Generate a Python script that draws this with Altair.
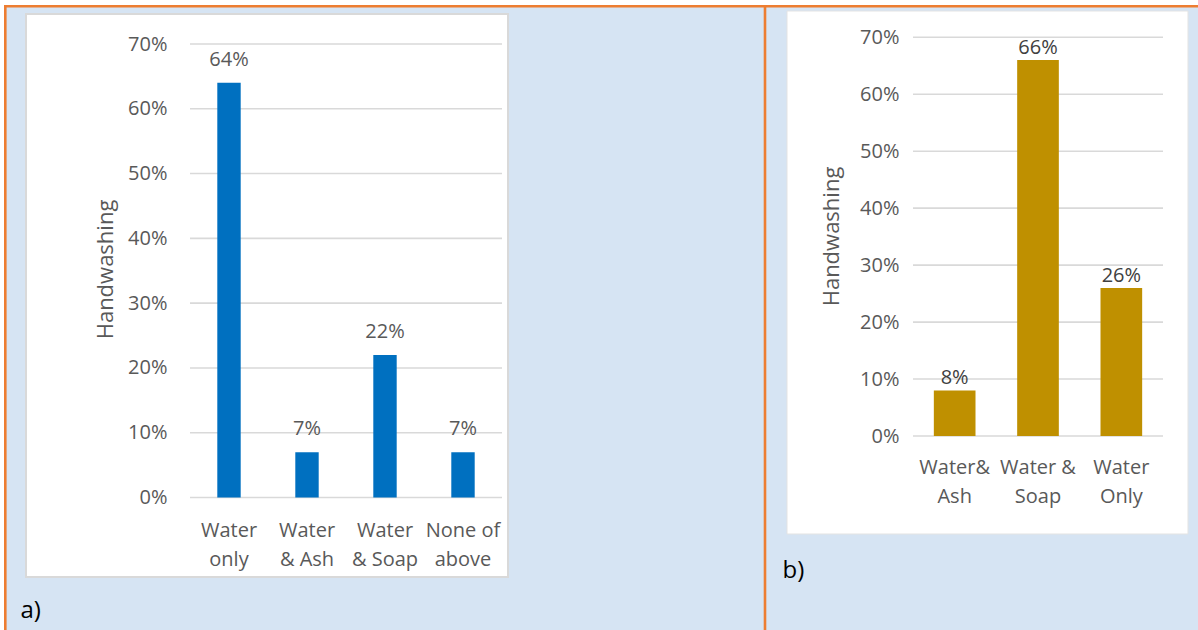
import altair as alt
import pandas as pd

# Panel a): handwashing practice, share of respondents (%)
a_methods = ["Water\nonly", "Water\n& Ash", "Water\n& Soap", "None of\nabove"]
a_shares = [64, 7, 22, 7]

# Panel b): handwashing practice, share of respondents (%)
b_methods = ["Water&\nAsh", "Water &\nSoap", "Water\nOnly"]
b_shares = [8, 66, 26]

pct_ticks = [0, 10, 20, 30, 40, 50, 60, 70]

W, H = 1198, 630
FONT = "Open Sans"
GREY = "#595959"
GRID = "#d9d9d9"
ORANGE = "#ed7d31"
BLUE_BG = "#d6e4f3"

one_row = alt.Data(values=[{}])


def deco_rect(x, x2, y, y2, **style):
    return alt.Chart(one_row).mark_rect(**style).encode(
        x=alt.value(x), x2=alt.value(x2), y=alt.value(y), y2=alt.value(y2)
    )


def deco_rule(x, x2, y, y2):
    return alt.Chart(one_row).mark_rule(color=ORANGE, strokeWidth=2.6).encode(
        x=alt.value(x), x2=alt.value(x2), y=alt.value(y), y2=alt.value(y2)
    )


def panel_letter(text, x, y):
    return alt.Chart(one_row).mark_text(
        text=text, font=FONT, fontSize=24, color="#000000",
        align="left", baseline="alphabetic",
    ).encode(x=alt.value(x), y=alt.value(y))


def bar_panel(methods, shares, color, x_range, y_range, pad_inner,
              value_color, value_dy, x_label_pad, y_label_pad, title_x, title_y):
    df = pd.DataFrame({
        "method": methods,
        "share": shares,
        "label": [f"{v}%" for v in shares],
    })
    ticks = pd.DataFrame({"tick": pct_ticks})

    y_scale = alt.Scale(domain=[0, 70], range=list(y_range), nice=False)
    y_axis = alt.Axis(
        orient="left", offset=-x_range[0], values=pct_ticks,
        labelExpr="datum.value + '%'", domain=False, ticks=False, grid=False,
        labelPadding=y_label_pad, labelFont=FONT, labelFontSize=20,
        labelColor=GREY, labelBaseline="middle", labelFlush=False,
        title="Handwashing", titleFont=FONT, titleFontSize=22,
        titleFontWeight="normal", titleColor=GREY, titleAngle=270,
        titleAlign="center", titleBaseline="alphabetic",
        titleX=title_x - x_range[0], titleY=title_y, zindex=1,
    )
    x_scale = alt.Scale(range=list(x_range), paddingInner=pad_inner,
                        paddingOuter=pad_inner / 2)
    x_axis = alt.Axis(
        orient="bottom", offset=y_range[0] - H, domain=False, ticks=False,
        grid=False, labelAngle=0, labelPadding=x_label_pad,
        labelExpr="split(datum.label, '\\n')", labelLineHeight=28.5,
        labelFont=FONT, labelFontSize=20, labelColor=GREY,
        labelBaseline="top", labelOverlap=False, title=None, zindex=1,
    )
    x_enc = alt.X("method:N", sort=methods, scale=x_scale, axis=x_axis)

    grid = alt.Chart(ticks).mark_rule(color=GRID, strokeWidth=1.6).encode(
        y=alt.Y("tick:Q", scale=y_scale, axis=y_axis),
        x=alt.value(x_range[0]), x2=alt.value(x_range[1]),
    )
    bars = alt.Chart(df).mark_bar(color=color).encode(
        x=x_enc,
        y=alt.Y("share:Q", scale=y_scale, axis=y_axis),
    )
    values = alt.Chart(df).mark_text(
        font=FONT, fontSize=20, color=value_color, baseline="alphabetic",
        dy=value_dy,
    ).encode(
        x=x_enc,
        y=alt.Y("share:Q", scale=y_scale, axis=y_axis),
        text="label:N",
    )
    return alt.layer(grid, bars, values)


panel_a = bar_panel(
    a_methods, a_shares, "#0070c0",
    x_range=(190, 502), y_range=(497.5, 44), pad_inner=0.7,
    value_color=GREY, value_dy=-17,
    x_label_pad=23.4, y_label_pad=23, title_x=112, title_y=269,
)
panel_b = bar_panel(
    b_methods, b_shares, "#bf9000",
    x_range=(913, 1163), y_range=(436, 37.3), pad_inner=0.5,
    value_color="#404040", value_dy=-6,
    x_label_pad=21.5, y_label_pad=14, title_x=838, title_y=236,
)

backdrop = alt.layer(
    deco_rect(4, W, 5, H, fill=BLUE_BG),
    deco_rule(4, W, 6.2, 6.2),
    deco_rule(5.3, 5.3, 5, H),
    deco_rule(765, 765, 5, H),
    deco_rect(26, 508, 14, 577, fill="white", stroke=GRID, strokeWidth=2),
    deco_rect(787, 1188, 11, 534, fill="white", stroke="#e3e3e3", strokeWidth=1),
)

chart = (
    alt.layer(
        backdrop,
        panel_a,
        panel_b,
        panel_letter("a)", 20.5, 618),
        panel_letter("b)", 782.5, 577.5),
    )
    .resolve_scale(x="independent", y="independent")
    .properties(width=W, height=H, padding=0,
                autosize=alt.AutoSizeParams(type="none"))
    .configure(background="white")
    .configure_view(stroke=None)
)

chart.save("out.html", embed_options={"renderer": "svg", "actions": False})
